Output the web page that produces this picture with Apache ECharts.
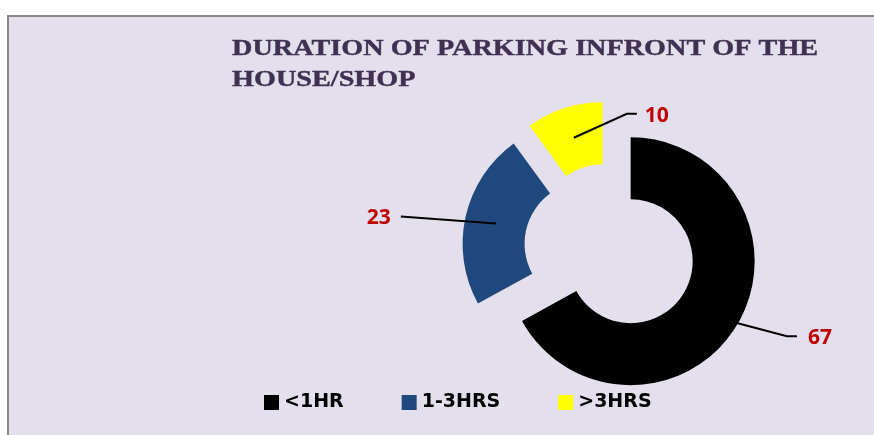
<!DOCTYPE html>
<html>
<head>
<meta charset="utf-8">
<script src="https://cdn.jsdelivr.net/npm/echarts@6/dist/echarts.min.js"></script>
<style>
  html, body { margin: 0; padding: 0; background: #ffffff; }
  #wrap { position: relative; width: 874px; height: 435px; overflow: hidden; }
  #bg { position: absolute; left: 7px; top: 15px; right: -10px; bottom: -10px;
        background: #E4DFEC; border-top: 2px solid #878787; border-left: 2px solid #878787; }
  #main { position: absolute; left: 0; top: 0; width: 874px; height: 435px; }
</style>
</head>
<body>
<div id="wrap">
  <div id="bg"></div>
  <div id="main"></div>
</div>
<script>
// data
const categories = ['<1HR', '1-3HRS', '>3HRS'];
const values = [67, 23, 10];
const colors = ['#000000', '#1F497D', '#FFFF00'];

const titleText = 'DURATION OF PARKING INFRONT OF THE\nHOUSE/SHOP';

// leader line tweaks per slice: inset from outer edge, elbow vector, horizontal run, side
const leader = [
  { inset: 4,  elbow: [53, 14],  run: 10, side: 'right', gap: 11 },
  { inset: 31, elbow: [-95, -7], run: 0,  side: 'left',  gap: 10 },
  { inset: 31, elbow: [53, -24], run: 10, side: 'right', gap: 8 }
];
const explode = 24;

const chart = echarts.init(document.getElementById('main'), null, { renderer: 'canvas' });

const pieBase = {
  type: 'pie',
  center: [610, 249],
  radius: [62, 124],
  startAngle: 90,
  clockwise: true,
  avoidLabelOverlap: false,
  emphasis: { disabled: true }
};

const option = {
  animation: false,
  backgroundColor: 'transparent',
  graphic: [{
    type: 'text',
    x: 232,
    y: 33,
    scaleX: 1.176,
    silent: true,
    style: {
      text: titleText,
      fontFamily: 'Liberation Serif',
      fontWeight: 'bold',
      fontSize: 24,
      lineHeight: 31,
      fill: '#3F3151',
      stroke: '#3F3151',
      lineWidth: 0.4,
      verticalAlign: 'top'
    }
  }],
  legend: {
    data: categories,
    left: 259,
    top: 388,
    icon: 'rect',
    itemWidth: 15,
    itemHeight: 15,
    itemGap: 58,
    selectedMode: false,
    textStyle: {
      fontFamily: 'DejaVu Sans',
      fontWeight: 'bold',
      fontSize: 19,
      color: '#000000'
    }
  },
  series: [
    Object.assign({}, pieBase, {
      name: 'slices',
      selectedMode: 'multiple',
      selectedOffset: explode,
      label: { show: false },
      labelLine: { show: false },
      data: categories.map(function (name, i) {
        return { name: name, value: values[i], selected: true, itemStyle: { color: colors[i] } };
      })
    }),
    Object.assign({}, pieBase, {
      name: 'labels',
      z: 5,
      silent: true,
      selectedMode: false,
      itemStyle: { color: 'rgba(0,0,0,0)', borderWidth: 0 },
      label: {
        show: true,
        position: 'outside',
        formatter: '{c}',
        fontFamily: 'Open Sans',
        fontWeight: 'bold',
        fontSize: 21,
        color: '#C00000'
      },
      labelLine: {
        show: true,
        length: 20,
        length2: 10,
        lineStyle: { color: '#000000', width: 2 }
      },
      labelLayout: function (p) {
        const cfg = leader[p.dataIndex];
        const pts = p.labelLinePoints;
        if (!cfg || !pts) return {};
        const p0 = pts[0], p1 = pts[1];
        const dx = p1[0] - p0[0], dy = p1[1] - p0[1];
        const len = Math.sqrt(dx * dx + dy * dy) || 1;
        const ux = dx / len, uy = dy / len;
        const shift = explode - cfg.inset;
        const s = [p0[0] + ux * shift, p0[1] + uy * shift];
        const e = [s[0] + cfg.elbow[0], s[1] + cfg.elbow[1]];
        const dir = cfg.side === 'right' ? 1 : -1;
        const t = [e[0] + dir * cfg.run, e[1]];
        return {
          x: t[0] + dir * cfg.gap,
          y: t[1] + 2,
          align: cfg.side === 'right' ? 'left' : 'right',
          verticalAlign: 'middle',
          labelLinePoints: [s, e, t]
        };
      },
      data: categories.map(function (name, i) {
        return { name: name, value: values[i] };
      })
    })
  ]
};

chart.setOption(option);
</script>
</body>
</html>
